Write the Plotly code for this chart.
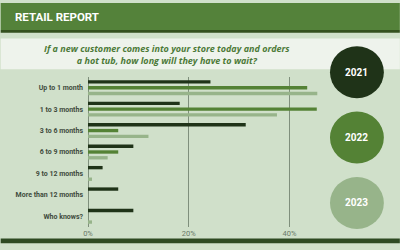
import plotly.graph_objects as go

categories = ["Up to 1 month", "1 to 3 months", "3 to 6 months", "6 to 9 months",
              "9 to 12 months", "More than 12 months", "Who knows?"]
years = ["2021", "2022", "2023"]
v2021 = [24.3, 18.2, 31.3, 9.0, 2.9, 6.0, 9.0]
v2022 = [43.5, 45.4, 6.0, 6.0, 0.0, 0.0, 0.0]
v2023 = [45.5, 37.5, 12.0, 3.9, 0.8, 0.0, 0.8]
tick_vals = [0, 20, 40]
tick_text = ["0%", "20%", "40%"]

title = "RETAIL REPORT"
subtitle = "If a new customer comes into your store today and orders<br>a hot tub, how long will they have to wait?"

colors = ["#1f3318", "#548235", "#97b48a"]
bg = "#d0e0ca"

W, H = 400, 250
L, R, T, B = 87.5, 80, 77, 17
pw, ph = W - L - R, H - T - B


def px(x):
    return (x - L) / pw


def py(y):
    return (H - B - y) / ph


fig = go.Figure()
for yr, vals, c in zip(years, [v2021, v2022, v2023], colors):
    fig.add_trace(go.Bar(y=categories, x=vals, name=yr, orientation="h",
                         marker=dict(color=c, line=dict(width=0)), showlegend=False))

shapes = [
    dict(type="rect", xref="paper", yref="paper", x0=px(0), x1=px(W), y0=py(0), y1=py(28),
         fillcolor="#54823a", line_width=0, layer="below"),
    dict(type="rect", xref="paper", yref="paper", x0=px(0), x1=px(W), y0=py(28), y1=py(31),
         fillcolor="#34511f", line_width=0, layer="below"),
    dict(type="rect", xref="paper", yref="paper", x0=px(0), x1=px(W), y0=py(37), y1=py(69),
         fillcolor="#eef3ec", line_width=0, layer="below"),
    dict(type="rect", xref="paper", yref="paper", x0=px(0), x1=px(W), y0=py(245), y1=py(250),
         fillcolor="#2e4a22", line_width=0, layer="below"),
]
circle_y = [72, 140, 208]
r = 27
cx = 357
for cy, c in zip(circle_y, colors):
    shapes.append(dict(type="circle", xref="paper", yref="paper",
                       x0=px(cx - r), x1=px(cx + r), y0=py(cy + r), y1=py(cy - r),
                       fillcolor=c, line_width=0, layer="above"))

annotations = [
    dict(text=title, xref="paper", yref="paper", x=px(12), y=py(15), xanchor="left", yanchor="middle",
         showarrow=False, font=dict(family="Roboto", size=11.5, color="white", weight="bold")),
    dict(text="<b><i>" + subtitle + "</i></b>", xref="paper", yref="paper", x=px(167), y=py(54),
         xanchor="center", yanchor="middle", showarrow=False,
         font=dict(family="Open Sans", size=9, color="#4c7a38"), align="center"),
]
for cy, yr in zip(circle_y, years):
    annotations.append(dict(text="<b>" + yr + "</b>", xref="paper", yref="paper", x=px(cx), y=py(cy),
                            xanchor="center", yanchor="middle", showarrow=False,
                            font=dict(family="Roboto", size=10, color="white")))

fig.update_layout(
    width=W, height=H, margin=dict(l=L, r=R, t=T, b=B, pad=0),
    paper_bgcolor=bg, plot_bgcolor="rgba(0,0,0,0)",
    barmode="group", bargap=0.19, bargroupgap=0.42,
    shapes=shapes, annotations=annotations,
    xaxis=dict(range=[0, pw / 5.05], tickvals=tick_vals, ticktext=tick_text,
               showgrid=True, gridcolor="#7f8f7c", gridwidth=1, zeroline=True,
               zerolinecolor="#7f8f7c", zerolinewidth=1, showline=False, ticks="",
               tickfont=dict(family="Roboto", size=7.5, color="#6a7a68"), fixedrange=True),
    yaxis=dict(autorange="reversed", showgrid=False, ticks="", showline=False,
               tickfont=dict(family="Roboto", size=7, color="#3f4b3d", weight="bold"),
               ticklabelstandoff=4, fixedrange=True),
)
fig.write_html("out.html")
